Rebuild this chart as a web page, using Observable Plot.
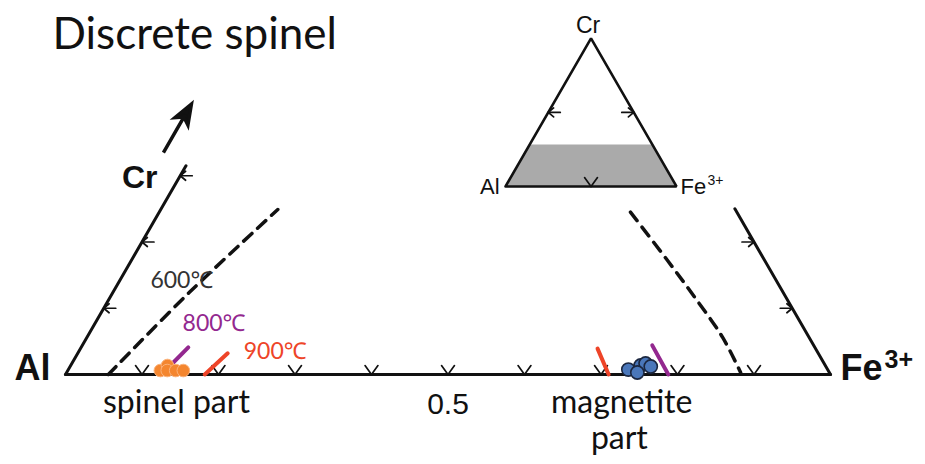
<!DOCTYPE html>
<html><head><meta charset="utf-8">
<script src="https://cdn.jsdelivr.net/npm/d3@7"></script>
<script src="https://cdn.jsdelivr.net/npm/@observablehq/plot@0.6"></script>
<style>body{margin:0;background:#fff} #chart{width:925px;height:464px}</style>
</head><body><div id="chart"></div>
<script>
// ---- data (ternary fractions: cr = Cr, fe = Fe3+, Al = 1 - cr - fe) ----
const title = "Discrete spinel";
const vertices = {Al: {cr: 0, fe: 0}, Fe: {cr: 0, fe: 1}, Cr: {cr: 1, fe: 0}};
const baseTicks = [0.1, 0.2, 0.3, 0.4, 0.5, 0.6, 0.7, 0.8, 0.9];
const baseTickLabels = [{fe: 0.5, text: "0.5"}];
const leftTicks = [0.1, 0.2, 0.3];
const rightTicks = [0.1, 0.2];
const leftEdgeTop = 0.315;   // Cr reached by the drawn Al–Cr edge
const rightEdgeTop = 0.25;   // Cr reached by the drawn Fe–Cr edge
const iso600Left = [{cr: 0, fe: 0.056}, {cr: 0.124, fe: 0.100}, {cr: 0.249, fe: 0.153}];
const iso600Right = [{cr: 0.245, fe: 0.616}, {cr: 0.172, fe: 0.701}, {cr: 0.115, fe: 0.766}, {cr: 0.056, fe: 0.831}, {cr: 0.003, fe: 0.881}];
const iso800Left = [{cr: 0, fe: 0.1255}, {cr: 0.041, fe: 0.140}];
const iso800Right = [{cr: 0, fe: 0.788}, {cr: 0.044, fe: 0.745}];
const iso900Left = [{cr: 0, fe: 0.182}, {cr: 0.032, fe: 0.196}];
const iso900Right = [{cr: 0, fe: 0.710}, {cr: 0.039, fe: 0.676}];
const spinelPart = [{cr: 0.006, fe: 0.121}, {cr: 0.0136, fe: 0.1265}, {cr: 0.006, fe: 0.130}, {cr: 0.006, fe: 0.141}, {cr: 0.006, fe: 0.151}];
const magnetitePart = [{cr: 0.0136, fe: 0.745}, {cr: 0.0166, fe: 0.750}, {cr: 0.0121, fe: 0.759}, {cr: 0.0075, fe: 0.732}, {cr: 0.003, fe: 0.746}];
const tempLabels = [
  {text: "600℃", cr: 0.130, fe: 0.046, color: "#333333"},
  {text: "800℃", cr: 0.066, fe: 0.120, color: "#93288f"},
  {text: "900℃", cr: 0.024, fe: 0.221, color: "#ee4428"}
];
const partLabels = [
  {text: "spinel part", cr: 0, fe: 0.145, line: 0},
  {text: "magnetite", cr: 0, fe: 0.727, line: 0},
  {text: "part", cr: 0, fe: 0.724, line: 1}
];
const arrowTail = [{cr: 0.335, fe: -0.0395}];
const insetShadeCr = 0.28;
const insetTicks = {left: [0.5], right: [0.5], base: [0.5]};

// ---- geometry helpers ----
const S = Math.sqrt(3) / 2;
const tx = d => d.fe + d.cr / 2;
const ty = d => d.cr * S;
const INSET = {x: 0.5752, y: 0.2458, k: 0.2235};
const ix = d => INSET.x + INSET.k * tx(d);
const iy = d => INSET.y + INSET.k * ty(d);

const seg = {draw(c, l) { c.moveTo(0, 0); c.lineTo(0, -l); }};
const arrowShape = {draw(c, l) {
  c.moveTo(0, 0); c.lineTo(0, -l + 12);
  c.moveTo(0, -l); c.lineTo(-7.5, -l + 20); c.lineTo(0, -l + 15); c.lineTo(7.5, -l + 20); c.closePath();
}};

function tickGlyphs(pts, fx, fy, kind) {
  const common = {x: fx, y: fy, anchor: "start", shape: seg, stroke: "#111", strokeWidth: 1.7};
  if (kind === "base") return [
    Plot.vector(pts, {...common, rotate: -36, length: 11}),
    Plot.vector(pts, {...common, rotate: 36, length: 11})
  ];
  const s = kind === "left" ? 1 : -1;
  return [
    Plot.vector(pts, {...common, rotate: 90 * s, length: 12}),
    Plot.vector(pts, {...common, rotate: 50 * s, length: 7}),
    Plot.vector(pts, {...common, rotate: 130 * s, length: 7})
  ];
}

const sansH = "Lato, 'Noto Sans', sans-serif";
const arial = "'Liberation Sans', Arial, sans-serif";

const insetTri = [vertices.Al, vertices.Fe, vertices.Cr, vertices.Al];
const shadeRows = [
  {b: {cr: 0, fe: 0}, t: {cr: insetShadeCr, fe: 0}},
  {b: {cr: 0, fe: 1}, t: {cr: insetShadeCr, fe: 1 - insetShadeCr}}
];

const chart = Plot.plot({
  width: 925, height: 464, margin: 0,
  x: {domain: [-65 / 765, 860 / 765], axis: null},
  y: {domain: [-90 / 765, 374 / 765], axis: null},
  style: {background: "#fff", overflow: "visible"},
  marks: [
    // inset
    Plot.area(shadeRows, {x1: r => ix(r.b), y1: r => iy(r.b), x2: r => ix(r.t), y2: r => iy(r.t), fill: "#aaaaaa"}),
    Plot.line(insetTri, {x: ix, y: iy, stroke: "#111", strokeWidth: 2.6, strokeLinejoin: "miter"}),
    ...tickGlyphs(insetTicks.base.map(f => ({cr: 0, fe: f})), ix, iy, "base"),
    ...tickGlyphs(insetTicks.left.map(c => ({cr: c, fe: 0})), ix, iy, "left"),
    ...tickGlyphs(insetTicks.right.map(c => ({cr: c, fe: 1 - c})), ix, iy, "right"),
    Plot.text([vertices.Cr], {x: ix, y: iy, text: () => "Cr", dx: -3, dy: -5, lineAnchor: "bottom", fontSize: 23, fontFamily: arial, fill: "#111"}),
    Plot.text([vertices.Al], {x: ix, y: iy, text: () => "Al", dx: -6, dy: 8, textAnchor: "end", lineAnchor: "bottom", fontSize: 22, fontFamily: arial, fill: "#111"}),
    Plot.text([vertices.Fe], {x: ix, y: iy, text: () => "Fe", dx: 4, dy: 8, textAnchor: "start", lineAnchor: "bottom", fontSize: 22, fontFamily: arial, fill: "#111"}),
    Plot.text([vertices.Fe], {x: ix, y: iy, text: () => "3+", dx: 31, dy: -1, textAnchor: "start", lineAnchor: "bottom", fontSize: 14, fontFamily: arial, fill: "#111"}),

    // main edges
    Plot.line([vertices.Al, vertices.Fe], {x: tx, y: ty, stroke: "#111", strokeWidth: 3}),
    Plot.line([vertices.Al, {cr: leftEdgeTop, fe: 0}], {x: tx, y: ty, stroke: "#111", strokeWidth: 3}),
    Plot.line([vertices.Fe, {cr: rightEdgeTop, fe: 1 - rightEdgeTop}], {x: tx, y: ty, stroke: "#111", strokeWidth: 3}),
    ...tickGlyphs(baseTicks.map(f => ({cr: 0, fe: f})), tx, ty, "base"),
    ...tickGlyphs(leftTicks.map(c => ({cr: c, fe: 0})), tx, ty, "left"),
    ...tickGlyphs(rightTicks.map(c => ({cr: c, fe: 1 - c})), tx, ty, "right"),

    // isotherms
    Plot.line(iso600Left, {x: tx, y: ty, stroke: "#111", strokeWidth: 3.5, strokeDasharray: "11,8", curve: "catmull-rom"}),
    Plot.line(iso600Right, {x: tx, y: ty, stroke: "#111", strokeWidth: 3.5, strokeDasharray: "11,8", curve: "catmull-rom"}),
    Plot.line(iso800Left, {x: tx, y: ty, stroke: "#93288f", strokeWidth: 4}),
    Plot.line(iso800Right, {x: tx, y: ty, stroke: "#93288f", strokeWidth: 4}),
    Plot.line(iso900Left, {x: tx, y: ty, stroke: "#ee4428", strokeWidth: 4}),
    Plot.line(iso900Right, {x: tx, y: ty, stroke: "#ee4428", strokeWidth: 4}),

    // compositions
    Plot.dot(spinelPart, {x: tx, y: ty, r: 6.3, fill: "#f4862f", stroke: "#fbb27a", strokeWidth: 1}),
    Plot.dot(magnetitePart, {x: tx, y: ty, r: 6.6, fill: "#4a77ba", stroke: "#1b2740", strokeWidth: 1.6}),

    // arrow toward Cr
    Plot.vector(arrowTail, {x: tx, y: ty, rotate: 30, length: 56, anchor: "start", shape: arrowShape, stroke: "#111", fill: "#111", strokeWidth: 3.5, strokeLinejoin: "miter", strokeLinecap: "butt"}),

    // labels
    Plot.text([vertices.Al], {x: tx, y: ty, text: () => "Al", dx: -15, dy: 5, textAnchor: "end", lineAnchor: "bottom", fontSize: 36, fontWeight: "bold", fontFamily: arial, fill: "#111"}),
    Plot.text([vertices.Fe], {x: tx, y: ty, text: () => "Fe", dx: 10, dy: 5, textAnchor: "start", lineAnchor: "bottom", fontSize: 36, fontWeight: "bold", fontFamily: arial, fill: "#111"}),
    Plot.text([vertices.Fe], {x: tx, y: ty, text: () => "3+", dx: 54, dy: -7, textAnchor: "start", lineAnchor: "bottom", fontSize: 25, fontWeight: "bold", fontFamily: arial, fill: "#111"}),
    Plot.text([{cr: leftEdgeTop, fe: 0}], {x: tx, y: ty, text: () => "Cr", dx: -64, dy: 22, textAnchor: "start", lineAnchor: "bottom", fontSize: 32, fontWeight: "bold", fontFamily: arial, fill: "#111"}),
    Plot.text(baseTickLabels, {x: d => d.fe, y: 0, text: "text", dy: 39, lineAnchor: "bottom", fontSize: 30, fontFamily: arial, fill: "#111"}),
    Plot.text(tempLabels, {x: tx, y: ty, text: "text", fill: "color", textAnchor: "start", lineAnchor: "bottom", fontSize: 23, fontFamily: sansH}),
    Plot.text(partLabels.filter(d => d.line === 0), {x: tx, y: ty, text: "text", dy: 38, lineAnchor: "bottom", fontSize: 32, fontFamily: sansH, fill: "#111"}),
    Plot.text(partLabels.filter(d => d.line === 1), {x: tx, y: ty, text: "text", dy: 74, lineAnchor: "bottom", fontSize: 32, fontFamily: sansH, fill: "#111"}),
    Plot.text([title], {frameAnchor: "top-left", dx: 52, dy: 48, textAnchor: "start", lineAnchor: "bottom", fontSize: 44, fontFamily: sansH, fill: "#111"})
  ]
});
document.getElementById("chart").append(chart);
</script></body></html>
